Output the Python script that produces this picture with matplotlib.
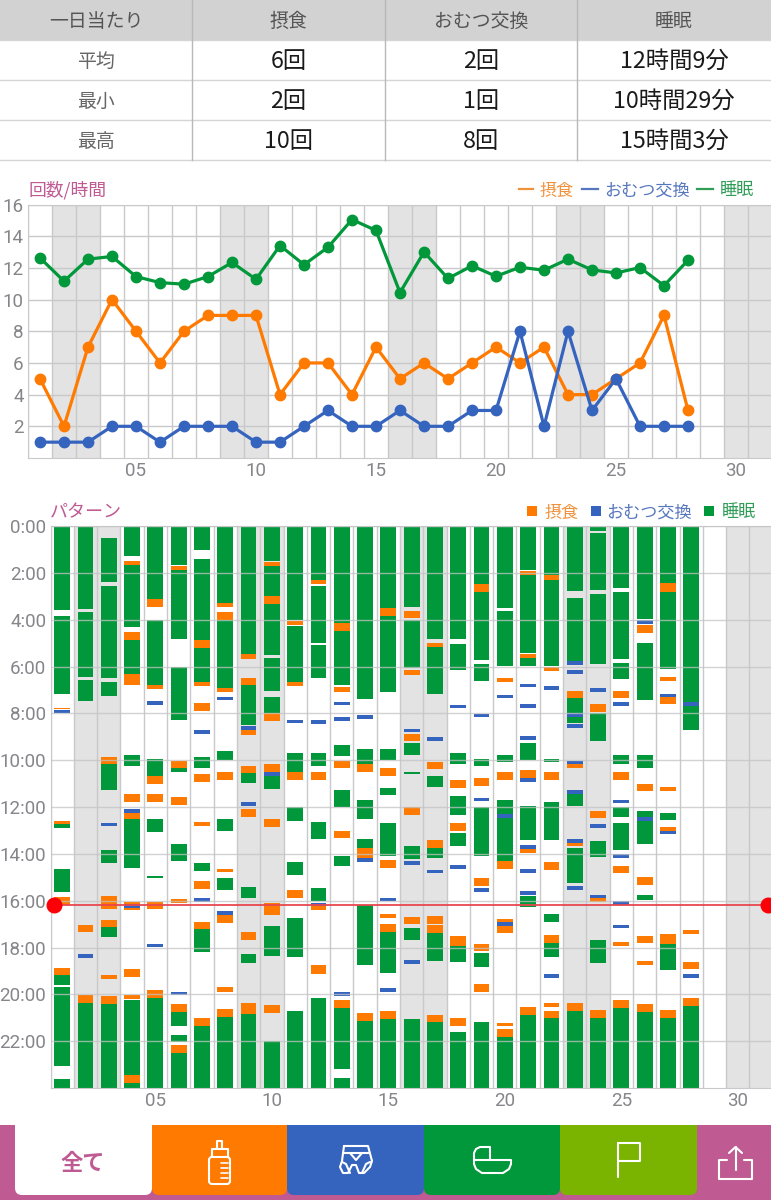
#Baby log summary: table, count/time line chart, daily pattern bars, tab bar.
import matplotlib
matplotlib.use('Agg')
import matplotlib.pyplot as plt
from matplotlib.patches import Rectangle, FancyBboxPatch

plt.rcParams['font.family'] = ['Noto Sans CJK JP', 'DejaVu Sans']

W, H = 771, 1200
PINK = '#bf5a92'
ORANGE = '#ff7a00'
BLUE = '#3564be'
GREEN = '#00983a'
LIME = '#7ab300'
GRID = '#c9c9cb'
SHADE = '#e3e3e3'
TICK = '#85858a'

# table
table_header = ['一日当たり', '摂食', 'おむつ交換', '睡眠']
table_rows = [['平均', '6回', '2回', '12時間9分'],
              ['最小', '2回', '1回', '10時間29分'],
              ['最高', '10回', '8回', '15時間3分']]

# line chart
days = list(range(1, 29))
feed_count = [5, 2, 7, 10, 8, 6, 8, 9, 9, 9, 4, 6, 6, 4, 7, 5, 6, 5, 6, 7, 6, 7, 4, 4, 5, 6, 9, 3]
diaper_count = [1, 1, 1, 2, 2, 1, 2, 2, 2, 1, 1, 2, 3, 2, 2, 3, 2, 2, 3, 3, 8, 2, 8, 3, 5, 2, 2, 2]
sleep_hours = [12.63, 11.16, 12.55, 12.72, 11.45, 11.07, 10.97, 11.45, 12.34, 11.28, 13.41, 12.2, 13.3, 15.05,
               14.36, 10.44, 13.0, 11.33, 12.13, 11.47, 12.04, 11.85, 12.55, 11.87, 11.68, 12.02, 10.88, 12.48]
weekend_days = [2, 3, 9, 10, 16, 17, 23, 24, 30, 31]
x_ticks = [5, 10, 15, 20, 25, 30]
x_labels = ['05', '10', '15', '20', '25', '30']
count_ticks = [2, 4, 6, 8, 10, 12, 14, 16]
hour_ticks = list(range(0, 24, 2))
now_hour = 16.17

# pattern chart, one list of (start, end) hours for each day
sleep_spans = [
    [(0, 3.56), (3.85, 7.15), (12.74, 12.9), (14.66, 15.64), (19.18, 19.58), (19.7, 23.04), (23.6, 24)],
    [(0, 3.55), (3.68, 6.44), (6.58, 7.48), (20.36, 24)],
    [(0.51, 2.39), (2.55, 6.48), (6.64, 7.26), (10.18, 11.25), (13.85, 14.39), (17.14, 17.55), (20.42, 24)],
    [(0, 1.28), (1.65, 4.3), (4.86, 6.31), (9.76, 10.24), (12.51, 14.62), (20.26, 23.44), (23.78, 24)],
    [(0, 3.13), (4, 6.77), (9.93, 10.66), (12.51, 13.05), (14.94, 15.03), (20.15, 24)],
    [(0, 1.64), (1.85, 4.81), (6, 8.28), (10.34, 10.5), (13.59, 14.32), (20.75, 21.37), (21.73, 22.04), (22.51, 24)],
    [(0, 1), (1.42, 4.86), (5.2, 6.65), (9.84, 10.34), (14.39, 14.73), (17.22, 18.2), (21.36, 24)],
    [(0, 3.28), (4, 6.91), (9.59, 9.99), (12.51, 13.02), (15.02, 15.54), (20.96, 24)],
    [(0, 5.46), (6.79, 8.5), (10.56, 10.95), (15.4, 15.87), (18.27, 18.67), (20.86, 24)],
    [(0, 1.5), (1.68, 2.99), (3.33, 5.5), (5.63, 7.02), (7.31, 7.99), (10.67, 11.22), (17.08, 18.36), (22, 24)],
    [(0, 4), (4.26, 6.64), (9.67, 10.48), (12.01, 12.58), (14.36, 14.9), (16.75, 18.42), (20.7, 24)],
    [(0, 2.28), (2.54, 5.01), (5.08, 6.48), (9.67, 10.24), (12.63, 13.37), (15.44, 16.03), (20.15, 24)],
    [(0, 4.13), (4.49, 6.77), (9.34, 9.83), (11.27, 12), (14.11, 14.5), (20.6, 23.18), (23.59, 24)],
    [(0, 4.63), (4.66, 7.38), (9.52, 10.17), (11.69, 12.5), (13.35, 13.75), (16.18, 18.74), (21.12, 24)],
    [(0, 3.49), (3.82, 7.08), (9.5, 9.97), (11.18, 11.5), (12.68, 14.08), (17.33, 19.07), (21.06, 24)],
    [(0, 3.45), (4, 6.05), (9.26, 9.79), (10.48, 10.58), (13.68, 14.2), (17.15, 17.66), (21.06, 24)],
    [(0, 4.8), (5.17, 7.18), (10.67, 11.13), (13.74, 14.18), (17.39, 18.57), (21.2, 24)],
    [(0, 4.8), (5.03, 6.14), (9.67, 10.17), (11.51, 12.34), (13.1, 13.66), (17.95, 18.6), (21.6, 24)],
    [(0, 2.45), (2.81, 5.71), (5.87, 6.6), (9.93, 10.23), (12.01, 14.08), (18.23, 18.84), (21.2, 24)],
    [(0, 3.49), (3.62, 5.98), (9.76, 10.09), (11.69, 14.29), (21.81, 24)],
    [(0, 1.89), (2.08, 5.43), (5.61, 5.98), (9.26, 9.97), (11.96, 13.42), (15.8, 16.28), (20.89, 24)],
    [(0, 2.07), (2.28, 5.98), (9.93, 10.09), (11.77, 13.42), (16.57, 16.92), (17.79, 18.4), (21.02, 24)],
    [(0, 2.78), (3.06, 5.77), (7.35, 7.99), (8.17, 8.42), (11.42, 11.97), (13.76, 15.23), (20.71, 24)],
    [(0, 0.19), (0.3, 2.72), (2.91, 5.9), (8, 9.16), (13.45, 14.12), (17.67, 18.67), (21, 24)],
    [(0, 2.64), (2.79, 5.66), (5.84, 6.52), (9.76, 10.17), (12.01, 12.43), (12.68, 13.82), (20.58, 24)],
    [(0, 3.95), (5.01, 7.41), (9.76, 10.34), (12.18, 13.56), (15.77, 15.97), (20.76, 24)],
    [(0, 2.42), (2.82, 6.1), (12.27, 12.57), (17.83, 18.98), (20.99, 24)],
    [(0, 8.69), (20.48, 24)],
]
feed_spans = [
    [(7.76, 7.83), (12.6, 12.74), (15.84, 16.2), (18.86, 19.18)],
    [(17.02, 17.35), (20.04, 20.36)],
    [(9.86, 10.18), (15.78, 16.35), (16.81, 17.14), (19.18, 19.35), (20.09, 20.42)],
    [(1.5, 1.65), (4.53, 4.86), (6.31, 6.77), (11.45, 11.78), (12.26, 12.51), (16.07, 16.41), (18.91, 19.24),
     (20.04, 20.2), (23.44, 23.78)],
    [(3.13, 3.46), (6.77, 6.97), (10.66, 11), (11.44, 11.77), (16.04, 16.37), (19.82, 20.15)],
    [(1.68, 1.85), (10.01, 10.34), (11.56, 11.89), (15.91, 16.08), (20.42, 20.75), (22.18, 22.51)],
    [(4.86, 5.2), (6.65, 6.84), (7.55, 7.88), (10.6, 10.93), (12.65, 12.82), (15.17, 15.5), (16.89, 17.22),
     (21.03, 21.36)],
    [(3.28, 3.45), (3.68, 4), (6.91, 7.08), (10.5, 10.83), (14.63, 14.79), (16.61, 16.95), (19.7, 19.88),
     (20.62, 20.96)],
    [(5.47, 5.66), (6.47, 6.79), (8.7, 8.9), (10.23, 10.56), (12.1, 12.43), (17.35, 17.68), (20.39, 20.86)],
    [(1.51, 1.68), (2.99, 3.33), (7.99, 8.33), (10.16, 10.5), (12.51, 12.84), (16.1, 16.61), (20.46, 20.81)],
    [(4.03, 4.2), (6.64, 6.81), (10.48, 10.84), (15.56, 15.88)],
    [(2.31, 2.48), (10.5, 10.83), (16.22, 16.38), (18.74, 19.11)],
    [(4.15, 4.49), (6.89, 7.08), (10.01, 10.34), (13.01, 13.34), (20.25, 20.6)],
    [(10.17, 10.5), (13.75, 14.19), (20.79, 21.12)],
    [(3.49, 3.82), (10.34, 10.67), (14.26, 14.59), (16.58, 16.74), (17, 17.33), (20.73, 21.06)],
    [(3.63, 3.94), (6.15, 6.34), (8.86, 9.17), (12.01, 12.34), (16.68, 17)],
    [(5, 5.17), (10.06, 10.38), (13.41, 13.74), (16.64, 16.98), (17.05, 17.39), (20.88, 21.2)],
    [(10.84, 11.17), (12.68, 13.01), (17.49, 17.95), (21.03, 21.36)],
    [(2.45, 2.81), (10.77, 11.1), (15.03, 15.36), (17.83, 18.16), (19.57, 19.9)],
    [(6.5, 6.67), (10.5, 10.83), (14.29, 14.63), (16.77, 17), (17.09, 17.38), (21.22, 21.37), (21.49, 21.81)],
    [(1.91, 2.08), (5.44, 5.61), (10.43, 10.75), (13.79, 13.96), (20.56, 20.89)],
    [(2.09, 2.28), (6.02, 6.2), (10.5, 10.83), (14.35, 14.67), (17.46, 17.79), (20.39, 20.55), (20.69, 21.02)],
    [(7.02, 7.35), (10.16, 10.33), (13.52, 13.68), (20.38, 20.71)],
    [(7.6, 7.93), (12.16, 12.48), (15.9, 16.05), (20.66, 20.99)],
    [(7.05, 7.36), (10.5, 10.83), (14.5, 14.83), (17.76, 17.92), (20.25, 20.58)],
    [(4.23, 4.56), (11, 11.33), (15, 15.33), (17.49, 17.82), (18.57, 18.73), (20.43, 20.76)],
    [(2.42, 2.82), (6.44, 6.6), (7.31, 7.59), (11.14, 11.3), (12.85, 13.01), (17.41, 17.83), (20.68, 20.99)],
    [(17.25, 17.41), (18.61, 18.93), (20.15, 20.48)],
]
diaper_spans = [
    [(7.85, 7.98)],
    [(18.27, 18.44)],
    [(12.67, 12.82)],
    [(12.09, 12.26), (16.13, 16.3)],
    [(7.46, 7.62), (17.85, 17.97)],
    [(19.88, 20.02)],
    [(8.7, 8.86), (15.88, 16.05)],
    [(7.28, 7.44), (16.44, 16.61)],
    [(8.53, 8.7), (11.8, 11.97)],
    [(10.5, 10.67)],
    [(8.26, 8.42)],
    [(8.29, 8.46), (16.08, 16.22)],
    [(7.49, 7.65), (8.16, 8.32), (19.92, 20.08)],
    [(8.05, 8.22), (14.19, 14.35)],
    [(15.88, 16.01), (19.74, 19.9)],
    [(8.65, 8.79), (14.29, 14.46), (18.54, 18.7)],
    [(9, 9.17), (14.68, 14.83)],
    [(7.62, 7.78), (14.49, 14.65)],
    [(8.01, 8.17), (11.59, 11.74), (15.46, 15.62)],
    [(7.19, 7.35), (12.28, 12.47), (16.91, 17.09)],
    [(6.74, 6.89), (7.61, 7.76), (8.96, 9.12), (10.77, 10.94), (13.64, 13.79), (14.66, 14.82), (15.58, 15.74)],
    [(6.84, 7), (19.15, 19.31)],
    [(5.77, 5.94), (6.15, 6.31), (8, 8.17), (8.45, 8.6), (10.01, 10.16), (11.27, 11.42), (13.37, 13.52), (15.39, 15.54)],
    [(6.91, 7.07), (12.73, 12.88), (15.74, 15.9)],
    [(7.51, 7.66), (11.68, 11.84), (14.02, 14.18), (16.01, 16.17), (17.02, 17.16)],
    [(4, 4.16), (12.43, 12.6)],
    [(7.15, 7.31), (13.01, 13.17)],
    [(7.49, 7.66), (19.15, 19.31)],
]


def px_axes(left, top, right, bottom):
    return fig.add_axes([left / W, 1 - bottom / H, (right - left) / W, (bottom - top) / H])


def setup_days(ax):
    ax.set_xlim(0.5, 31.5)
    for d in weekend_days:
        ax.axvspan(d - 0.5, d + 0.5, color=SHADE, lw=0, zorder=0)
    for d in range(1, 32):
        ax.axvline(d - 0.5, color=GRID, lw=1, zorder=1)
    ax.set_xticks(x_ticks, x_labels)
    ax.tick_params(length=0, labelcolor=TICK, labelsize=13.5, pad=3)
    for s in ax.spines.values():
        s.set_color(GRID)
    for lab in ax.get_xticklabels() + ax.get_yticklabels():
        lab.set_family('Roboto')


def line(xs, ys, lw=1.5, color='white'):
    bg.plot(xs, ys, color=color, lw=lw, solid_capstyle='round', solid_joinstyle='round', zorder=6)


fig = plt.figure(figsize=(W / 100, H / 100), dpi=100)

# page in pixel coordinates
bg = fig.add_axes([0, 0, 1, 1], zorder=0)
bg.set_xlim(0, W)
bg.set_ylim(H, 0)
bg.axis('off')

# table
col_edges = [0, 192, 385, 577, 771]
row_edges = [0, 40, 80, 120, 160]
bg.add_patch(Rectangle((0, 0), W, 40, color='#d2d2d2', lw=0))
for y in row_edges[1:]:
    bg.plot([0, W], [y, y], color='#d5d5d5', lw=1)
for x in col_edges[1:-1]:
    bg.plot([x, x], [0, 160], color='#b8b8b8', lw=1)
for i in range(4):
    cx = (col_edges[i] + col_edges[i + 1]) / 2
    bg.text(cx, 21.5, table_header[i], ha='center', va='center', fontsize=13.6, color='#555555')
    for j, row in enumerate(table_rows):
        cy = (row_edges[j + 1] + row_edges[j + 2]) / 2 + 1.5
        if i == 0:
            bg.text(cx, cy, row[i], ha='center', va='center', fontsize=13.6, color='#666666')
        else:
            bg.text(cx, cy, row[i], ha='center', va='center', fontsize=16.8, color='#1a1a1a')

# titles and legends
bg.text(29, 190, '回数/時間', ha='left', va='center', fontsize=12.8, color=PINK)
bg.text(50, 512, 'パターン', ha='left', va='center', fontsize=13, color=PINK)
for x0, x1, tx, label, c in [(519, 533, 540, '摂食', '#f0923c'), (582, 598, 604, 'おむつ交換', '#5676bd'),
                             (697, 713, 720, '睡眠', '#2f9c58')]:
    bg.plot([x0, x1], [189, 189], color=c, lw=1.6)
    bg.text(tx, 190.5, label, ha='left', va='center', fontsize=12.3, color=c)
for sx, tx, label, sc, c in [(532, 545, '摂食', ORANGE, '#f0923c'), (596, 606, 'おむつ交換', BLUE, '#5676bd'),
                             (709, 722, '睡眠', GREEN, '#2f9c58')]:
    bg.add_patch(Rectangle((sx - 5, 506), 10, 10, color=sc, lw=0))
    bg.text(tx, 512.5, label, ha='left', va='center', fontsize=12.3, color=c)

# tab bar
bg.add_patch(Rectangle((0, 1125), W, 75, color=PINK, lw=0, zorder=1))
for x0, x1, c in [(15, 152, 'white'), (152, 287, ORANGE), (287, 424, BLUE), (424, 560, GREEN), (560, 697, LIME)]:
    bg.add_patch(FancyBboxPatch((x0, 1100), x1 - x0, 95, boxstyle='round,pad=0,rounding_size=7',
                                lw=0, color=c, zorder=2))
bg.add_patch(Rectangle((0, 1090), W, 35, color='white', lw=0, zorder=3))
bg.text(83, 1164, '全て', ha='center', va='center', fontsize=16, fontweight='bold', color=PINK, zorder=6)

# bottle
bg.add_patch(FancyBboxPatch((209, 1157), 21, 27, boxstyle='round,pad=0,rounding_size=3', fill=False,
                            ec='white', lw=1.5, zorder=6))
line([212, 212, 228, 228], [1157, 1149, 1149, 1157])
line([217, 217, 222, 222], [1149, 1141, 1141, 1149])
for y in [1163, 1168, 1173, 1178]:
    line([221, 228], [y, y], lw=1.2)

# diaper
line([344, 368, 372, 370, 364, 359, 356, 352, 348, 343, 340, 342, 344],
     [1146, 1146, 1161, 1167, 1173, 1173, 1165, 1165, 1173, 1173, 1167, 1161, 1146])
line([343, 369], [1153, 1153])
line([350, 356, 362], [1153, 1160, 1153])
line([342, 346, 350], [1162, 1164, 1173])
line([370, 366, 362], [1162, 1164, 1173])

# bassinet
line([474, 474, 476, 480, 490, 490], [1160, 1153, 1149, 1147, 1147, 1160])
line([474, 511, 511, 509, 503, 482, 476, 474, 474], [1160, 1160, 1164, 1169, 1173, 1173, 1169, 1164, 1160])

# flag
line([618, 618], [1143, 1177])
line([618, 640, 640, 618], [1143, 1143, 1161, 1161])

# share
line([727, 719, 719, 752, 752, 744], [1160, 1160, 1179, 1179, 1160, 1160])
line([735.5, 735.5], [1147, 1170])
line([729, 735.5, 742], [1153, 1147, 1153])

# line chart
ax1 = px_axes(28, 204.5, 772, 458)
ax1.set_zorder(2)
ax1.patch.set_alpha(0)
setup_days(ax1)
ax1.set_ylim(0, 16)
ax1.set_yticks(count_ticks)
ax1.tick_params(axis='y', pad=3)
for v in count_ticks:
    ax1.axhline(v, color=GRID, lw=1, zorder=1)
ax1.plot(days, feed_count, color=ORANGE, lw=2.3, marker='o', ms=7.5, zorder=3, clip_on=False)
ax1.plot(days, diaper_count, color=BLUE, lw=2.3, marker='o', ms=7.5, zorder=4, clip_on=False)
ax1.plot(days, sleep_hours, color=GREEN, lw=2.3, marker='o', ms=7.5, zorder=5, clip_on=False)
for lab in ax1.get_yticklabels():
    lab.set_family('Roboto')

# pattern chart
ax2 = px_axes(50.5, 526.2, 772.8, 1088)
ax2.set_zorder(2)
ax2.patch.set_alpha(0)
setup_days(ax2)
ax2.set_ylim(24, 0)
ax2.set_yticks(hour_ticks, ['%d:00' % h for h in hour_ticks])
for lab in ax2.get_yticklabels():
    lab.set_family('Roboto')
for day, spans in zip(days, sleep_spans):
    for a, b in spans:
        ax2.bar(day, b - a, bottom=a, width=0.68, color=GREEN, lw=0, zorder=2)
for day, spans in zip(days, feed_spans):
    for a, b in spans:
        ax2.bar(day, b - a, bottom=a, width=0.68, color=ORANGE, lw=0, zorder=3)
for day, spans in zip(days, diaper_spans):
    for a, b in spans:
        ax2.bar(day, b - a, bottom=a, width=0.68, color=BLUE, lw=0, zorder=4)
for h in hour_ticks:
    ax2.axhline(h, color='#c4c4c6', lw=1, alpha=0.75, zorder=5)

# current time marker
ax2.plot([0.65, 31.3], [now_hour, now_hour], color='#e8474f', lw=1.3, zorder=6)
ax2.plot([0.65, 31.3], [now_hour, now_hour], color='#fb0007', ls='none', marker='o', ms=10.5, zorder=7,
         clip_on=False)

fig.savefig('out.png', dpi=100)
